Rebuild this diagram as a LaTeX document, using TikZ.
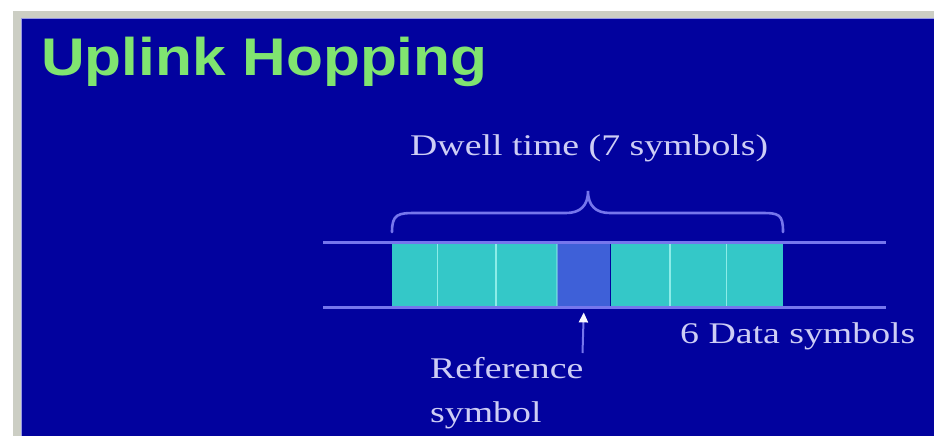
\documentclass[tikz,border=0pt]{standalone}
\usepackage{graphicx}
\usepackage{fontspec}
\setmainfont{Liberation Serif}
\newfontfamily\headfont{Liberation Sans}
\usetikzlibrary{arrows.meta}

\definecolor{slidebg}{RGB}{2,2,158}
\definecolor{framegrey}{RGB}{204,206,196}
\definecolor{framelight}{RGB}{150,150,230}
\definecolor{titlegreen}{RGB}{128,228,112}
\definecolor{paletext}{RGB}{205,205,245}
\definecolor{rulecol}{RGB}{118,118,236}
\definecolor{datacell}{RGB}{52,200,200}
\definecolor{refcell}{RGB}{62,96,216}
\definecolor{celledge}{RGB}{140,236,232}

% widened lettering
\newcommand\widetext[2][1.26]{\scalebox{#1}[1]{#2}}

\tikzset{
  label text/.style={text=paletext, inner sep=0pt, anchor=base west,
    font=\fontsize{30}{44}\selectfont},
  cellbox/.style={inner sep=0pt, minimum height=65pt, anchor=north west,
    fill=datacell, draw=none},
  rail/.style={draw=rulecol, line width=3pt},
  divider/.style={draw=celledge, line width=1.6pt},
  bracket/.style={draw=rulecol, line width=2.6pt, line cap=round},
  pointer/.style={draw=rulecol, line width=2pt,
    -{Triangle[width=9pt,length=10pt,color=white!85!paletext]}},
}

\begin{document}
\begin{tikzpicture}[x=1pt,y=-1pt]
  \useasboundingbox (0,0) rectangle (934,436);

  % slide frame and background
  \fill[white] (0,0) rectangle (934,436);
  \fill[framegrey] (13,11) rectangle (934,436);
  \fill[slidebg] (21,18) rectangle (934,436);
  \draw[framelight, line width=1pt] (21.5,436) -- (21.5,18.5) -- (934,18.5);

  % title
  \node[anchor=base west, inner sep=0pt, text=titlegreen,
        font=\headfont\bfseries\fontsize{53}{60}\selectfont]
        (title) at (41,75) {\widetext[1.14]{Uplink Hopping}};

  % the seven symbols of one dwell
  \node[cellbox, minimum width=45pt] (c1) at (392,242) {};
  \node[cellbox, minimum width=58pt] (c2) at (c1.north east) {};
  \node[cellbox, minimum width=61pt] (c3) at (c2.north east) {};
  \node[cellbox, minimum width=53pt, fill=refcell] (c4) at (c3.north east) {};
  \node[cellbox, minimum width=59pt] (c5) at (c4.north east) {};
  \node[cellbox, minimum width=56pt] (c6) at (c5.north east) {};
  \node[cellbox, minimum width=56pt] (c7) at (c6.north east) {};

  \draw[divider] (c1.north east) -- (c1.south east);
  \draw[divider] (c2.north east) -- (c2.south east);
  \draw[divider, draw opacity=0.5] (c3.north east) -- (c3.south east);
  \draw[divider] (c5.north east) -- (c5.south east);
  \draw[divider] (c6.north east) -- (c6.south east);

  % time axis rails
  \coordinate (railTL) at (323,242);
  \coordinate (railTR) at (886,242);
  \coordinate (railBL) at (323,307);
  \coordinate (railBR) at (886,307);
  \draw[rail] (railTL) -- (railTR);
  \draw[rail] (railBL) -- (railBR);

  % brace over the dwell
  \draw[bracket] (c1.north west) ++(0,-10)
     .. controls (392,214) and (398,213) .. (416,213)
     -- (566,213)
     .. controls (580,213) and (588,206) .. (588,191)
     .. controls (588,206) and (596,213) .. (610,213)
     -- (761,213)
     .. controls (779,213) and (783,214) .. (783,232);

  % labels
  \node[label text] (dwell) at (410,155) {\widetext{Dwell time (7 symbols)}};
  \node[label text] (data) at (680,343) {\widetext{6 Data symbols}};
  \node[label text, align=left] (reflabel) at (430,422)
        {\widetext{Reference}\\\widetext{symbol}};

  % pointer to the reference symbol
  \coordinate (reftail) at (582.5,353);
  \draw[pointer, shorten >=5pt] (reftail) -- (c4.south);
\end{tikzpicture}
\end{document}
